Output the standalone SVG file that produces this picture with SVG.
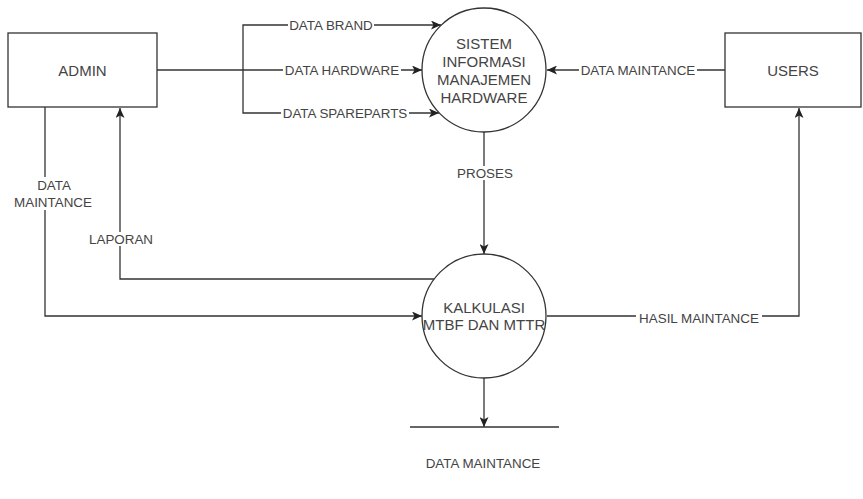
<svg xmlns="http://www.w3.org/2000/svg" width="863" height="499" viewBox="0 0 863 499">
<style>
.shape{fill:#fff;stroke:#333;stroke-width:1.3}
.line{fill:none;stroke:#333;stroke-width:1.3}
.node{font-family:"Liberation Sans",Arial,sans-serif;font-size:15px;fill:#444;text-anchor:middle;dominant-baseline:central}
.lbl{font-family:"Liberation Sans",Arial,sans-serif;font-size:13.4px;fill:#444;text-anchor:middle;dominant-baseline:central}
.bg{fill:#fff}
</style>
<defs>
<marker id="arr" markerUnits="userSpaceOnUse" markerWidth="11" markerHeight="9" refX="10" refY="4.5" orient="auto">
<path d="M0,0 L10,4.5 L0,9 L2.5,4.5 Z" fill="#222"/>
</marker>
</defs>
<g id="connectors">
<path class="line" d="M157,70 L422,70" marker-end="url(#arr)"/>
<path class="line" d="M243,70 L243,25 L441,25" marker-end="url(#arr)"/>
<path class="line" d="M243,70 L243,113 L439,113" marker-end="url(#arr)"/>
<path class="line" d="M725,70 L547,70" marker-end="url(#arr)"/>
<path class="line" d="M484,132 L484,254" marker-end="url(#arr)"/>
<path class="line" d="M45,107 L45,316 L422,316" marker-end="url(#arr)"/>
<path class="line" d="M434,279 L120,279 L120,108" marker-end="url(#arr)"/>
<path class="line" d="M547,316 L799,316 L799,108" marker-end="url(#arr)"/>
<path class="line" d="M484,378 L484,427" marker-end="url(#arr)"/>
<g id="labels">
<rect class="bg" x="288" y="18" width="86" height="14"/><text class="lbl" x="331" y="25">DATA BRAND</text>
<rect class="bg" x="283" y="63" width="118" height="14"/><text class="lbl" x="342" y="70">DATA HARDWARE</text>
<rect class="bg" x="281" y="106" width="128" height="14"/><text class="lbl" x="345" y="113">DATA SPAREPARTS</text>
<rect class="bg" x="579" y="63" width="118" height="14"/><text class="lbl" x="638" y="70">DATA MAINTANCE</text>
<rect class="bg" x="456" y="166" width="58" height="14"/><text class="lbl" x="485" y="173">PROSES</text>
<rect class="bg" x="12" y="177" width="82" height="33"/><text class="lbl" x="54" y="185">DATA</text><text class="lbl" x="53" y="202">MAINTANCE</text>
<rect class="bg" x="87" y="232" width="68" height="14"/><text class="lbl" x="121" y="239">LAPORAN</text>
<rect class="bg" x="636" y="310" width="126" height="14"/><text class="lbl" x="699" y="318">HASIL MAINTANCE</text>
</g>
</g>
<g id="admin">
<rect class="shape" x="8" y="33" width="149" height="74"/>
<text class="node" x="82.5" y="70">ADMIN</text>
</g>
<g id="users">
<rect class="shape" x="725" y="33" width="136" height="74"/>
<text class="node" x="793" y="70">USERS</text>
</g>
<g id="sistem">
<circle class="shape" cx="484" cy="70" r="62"/>
<text class="node" x="484" y="43">SISTEM</text>
<text class="node" x="484" y="61">INFORMASI</text>
<text class="node" x="484" y="79">MANAJEMEN</text>
<text class="node" x="484" y="97">HARDWARE</text>
</g>
<g id="kalkulasi">
<circle class="shape" cx="484" cy="316" r="62"/>
<text class="node" x="484" y="307">KALKULASI</text>
<text class="node" x="484" y="324">MTBF DAN MTTR</text>
</g>
<g id="datastore">
<line class="line" x1="410" y1="427" x2="559" y2="427"/>
<text class="lbl" x="483" y="463">DATA MAINTANCE</text>
</g>
</svg>
